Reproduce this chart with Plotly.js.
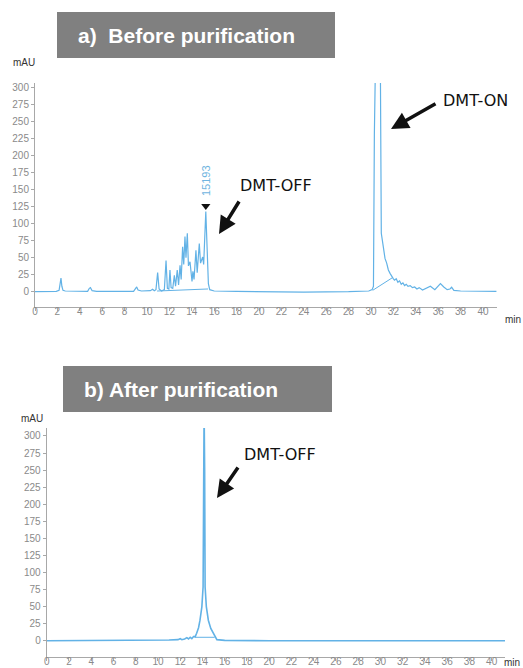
<!DOCTYPE html>
<html>
<head>
<meta charset="utf-8">
<script src="https://cdn.plot.ly/plotly-3.0.1.min.js"></script>
<style>html,body{margin:0;padding:0;background:#fff;}#chart{width:523px;height:668px;}</style>
</head>
<body>
<div id="chart"></div>
<script>
// ---- Data (time in min, absorbance in mAU) ----
const beforeTime = [0,1.9,2.15,2.25,2.32,2.4,2.5,2.7,4.7,4.85,4.95,5.1,5.5,8.8,8.95,9.08,9.2,9.5,10.3,10.5,10.65,10.8,10.95,11.08,11.3,11.55,11.7,11.82,11.95,12.05,12.15,12.3,12.44,12.55,12.7,12.82,12.95,13.05,13.18,13.28,13.39,13.48,13.6,13.7,13.84,13.95,14.02,14.1,14.2,14.37,14.48,14.67,14.78,14.97,15.06,15.25,15.38,15.48,15.6,16,18,20,24,28,29.8,30.1,30.22,30.3,30.38,30.5,30.65,30.8,30.86,30.92,31.1,31.25,31.4,31.55,31.7,31.85,32.0,32.1,32.25,32.4,32.55,32.7,32.85,33.0,33.15,33.3,33.5,33.7,33.9,34.1,34.3,34.6,35.0,35.3,35.7,36.0,36.2,36.5,36.8,37.05,37.2,37.4,38,41.2];
const beforeAbs  = [0,0.5,2,12,20,8,2,1,0.5,5,6,1.5,0.5,0.5,5,7,2.5,1,1.5,3.5,1.5,3,28,4,1,3,46,5,4,32,6,5,24,8,32,10,39,18,66,40,81,50,86,38,44,22,15,30,18,61,28,71,42,51,40,118,60,12,3,1,0.5,0,-0.5,0,1,3,8,230,420,450,430,440,320,86,66,49,42,32,27,22,19,17,19,14,16,11,13,9,11,8,9,6,7,4,6,2.5,5,8,3,8,12,7,3,4,6.5,2,1,0.5];
const beforeSkimTime = [30.15,31.95];
const beforeSkimAbs  = [2,21];
const clusterSkimTime = [10.9,15.45];
const clusterSkimAbs  = [1,4];
const markedPeakTime = [15.25];
const markedPeakAbs  = [126];
const markedPeakLabel = ["15193"];

const afterTime = [0,9.5,10,11,11.8,12.0,12.15,12.4,12.6,12.75,12.9,13.05,13.2,13.35,13.48,13.65,13.78,13.95,14.06,14.12,14.15,14.2,14.24,14.35,14.53,14.75,14.98,15.15,15.3,16,20,41.3];
const afterAbs  = [0,0,0.5,1,1.5,3,1.5,2.5,4.5,2.5,5,3,6,6,11,19,30,50,79,250,340,250,79,50,30,18,11,5,1.5,0.5,0,0];
const afterSkimTime = [13.3,15.1];
const afterSkimAbs  = [5,5];

const xTicks = [0,2,4,6,8,10,12,14,16,18,20,22,24,26,28,30,32,34,36,38,40];
const yTicks = [0,25,50,75,100,125,150,175,200,225,250,275,300];
const titleA = "a)  Before purification";
const titleB = "b) After purification";
const labelOff = "DMT-OFF";
const labelOn = "DMT-ON";
const yUnit = "mAU";
const xUnit = "min";

// ---- Layout helpers (pixel -> paper) ----
const W = 523, H = 668;
const px = v => v / W;
const py = v => 1 - v / H;

const lineColor = '#62b2e6';
const traceStyle = {mode:'lines', line:{color:lineColor, width:1.2}, hoverinfo:'skip', showlegend:false};

const traces = [
  Object.assign({x:beforeTime, y:beforeAbs, xaxis:'x', yaxis:'y'}, traceStyle),
  Object.assign({x:beforeSkimTime, y:beforeSkimAbs, xaxis:'x', yaxis:'y'}, traceStyle, {line:{color:lineColor,width:1}}),
  Object.assign({x:clusterSkimTime, y:clusterSkimAbs, xaxis:'x', yaxis:'y'}, traceStyle, {line:{color:lineColor,width:1}}),
  {x:markedPeakTime, y:markedPeakAbs, xaxis:'x', yaxis:'y', mode:'markers', marker:{symbol:'triangle-down', size:8, color:'#111'}, showlegend:false, hoverinfo:'skip'},
  Object.assign({x:afterTime, y:afterAbs, xaxis:'x2', yaxis:'y2'}, traceStyle, {line:{color:lineColor,width:1.6}}),
  Object.assign({x:afterSkimTime, y:afterSkimAbs, xaxis:'x2', yaxis:'y2'}, traceStyle, {line:{color:lineColor,width:1}})
];

const tickFont = {family:'Liberation Sans, Arial, sans-serif', size:10, color:'#8a8a8a'};
function xAxis(domain, range, anchor){
  return {domain:domain, range:range, anchor:anchor, tickvals:xTicks, ticktext:xTicks.map(String),
    ticks:'outside', ticklen:3, tickcolor:'#a8a8a8', showline:true, linecolor:'#a8a8a8', linewidth:1,
    ticklabelstandoff:-8,
    showgrid:false, zeroline:false, tickfont:tickFont, fixedrange:true};
}
function yAxis(domain, range, anchor){
  return {domain:domain, range:range, anchor:anchor, tickvals:yTicks, ticktext:yTicks.map(String),
    ticks:'outside', ticklen:3, tickcolor:'#a8a8a8', showline:true, linecolor:'#a8a8a8', linewidth:1,
    showgrid:false, zeroline:false, tickfont:tickFont, fixedrange:true};
}

const boxFont = {family:'Liberation Sans, Arial, sans-serif', size:21, color:'#ffffff', weight:'bold'};
const labelFont = {family:'DejaVu Sans, Verdana, sans-serif', size:16, color:'#111'};
const unitFont = {family:'Liberation Sans, Arial, sans-serif', size:10, color:'#333'};

const layout = {
  width:W, height:H, margin:{l:0,r:0,t:0,b:0},
  paper_bgcolor:'#ffffff', plot_bgcolor:'#ffffff',
  showlegend:false,
  xaxis: xAxis([px(35), px(497)], [0, 41.25], 'y'),
  yaxis: yAxis([py(307), py(83)], [-22.5, 307], 'x'),
  xaxis2: xAxis([px(46.7), px(505)], [0, 41.2], 'y2'),
  yaxis2: yAxis([py(656.7), py(428)], [-23.45, 311.7], 'x2'),
  shapes:[
    {type:'rect', xref:'paper', yref:'paper', x0:px(57), x1:px(335), y0:py(58), y1:py(12), fillcolor:'#808080', line:{width:0}, layer:'below'},
    {type:'rect', xref:'paper', yref:'paper', x0:px(63), x1:px(332), y0:py(412), y1:py(366), fillcolor:'#808080', line:{width:0}, layer:'below'}
  ],
  annotations:[
    {text:'<b>'+titleA+'</b>', xref:'paper', yref:'paper', x:px(76), y:py(35), xanchor:'left', yanchor:'middle', showarrow:false, font:boxFont},
    {text:'<b>'+titleB+'</b>', xref:'paper', yref:'paper', x:px(82), y:py(389), xanchor:'left', yanchor:'middle', showarrow:false, font:boxFont},
    {text:yUnit, xref:'paper', yref:'paper', x:px(11), y:py(62), xanchor:'left', yanchor:'middle', showarrow:false, font:unitFont},
    {text:yUnit, xref:'paper', yref:'paper', x:px(19), y:py(418), xanchor:'left', yanchor:'middle', showarrow:false, font:unitFont},
    {text:xUnit, xref:'paper', yref:'paper', x:px(503), y:py(319), xanchor:'left', yanchor:'middle', showarrow:false, font:unitFont},
    {text:xUnit, xref:'paper', yref:'paper', x:px(522), y:py(662), xanchor:'right', yanchor:'middle', showarrow:false, font:unitFont},
    {text:markedPeakLabel[0], xref:'x', yref:'y', x:markedPeakTime[0], y:164, textangle:-90, showarrow:false, font:{family:'Liberation Sans, Arial, sans-serif', size:11, color:'#6fb4e0'}},
    // text labels
    {text:labelOff, xref:'paper', yref:'paper', x:px(238), y:py(186), xanchor:'left', yanchor:'middle', showarrow:false, font:labelFont},
    {text:labelOn, xref:'paper', yref:'paper', x:px(441), y:py(101), xanchor:'left', yanchor:'middle', showarrow:false, font:labelFont},
    {text:labelOff, xref:'paper', yref:'paper', x:px(242), y:py(455), xanchor:'left', yanchor:'middle', showarrow:false, font:labelFont},
    // arrows
    {text:'', xref:'paper', yref:'paper', x:px(219), y:py(234), ax:21, ay:-34, showarrow:true, arrowhead:2, arrowsize:1, arrowwidth:3.5, arrowcolor:'#111'},
    {text:'', xref:'paper', yref:'paper', x:px(391), y:py(129), ax:46, ay:-26, showarrow:true, arrowhead:2, arrowsize:1, arrowwidth:3.5, arrowcolor:'#111'},
    {text:'', xref:'paper', yref:'paper', x:px(217), y:py(498), ax:22, ay:-32, showarrow:true, arrowhead:2, arrowsize:1, arrowwidth:3.5, arrowcolor:'#111'}
  ]
};

Plotly.newPlot('chart', traces, layout, {displayModeBar:false, staticPlot:true});
</script>
</body>
</html>
